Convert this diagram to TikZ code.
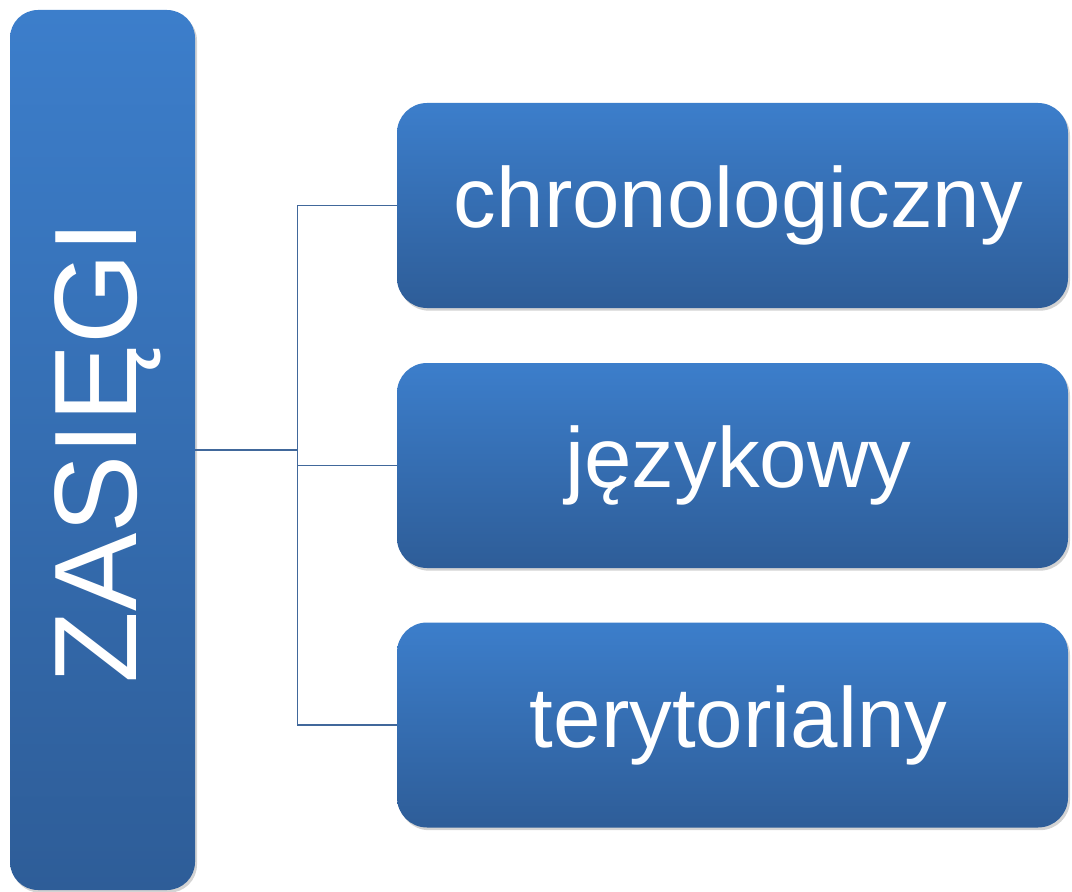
\documentclass[tikz,border=0pt]{standalone}
\usepackage{fontspec}
\setmainfont{Liberation Sans}
\usepackage{xcolor}
\usetikzlibrary{shadows}
\definecolor{boxtop}{HTML}{3C7ECB}
\definecolor{boxbot}{HTML}{2E5D98}
\definecolor{linkblue}{HTML}{41689B}
\tikzset{ZBox/.style={shape=rectangle,inner sep=0pt,top color=boxtop,bottom color=boxbot,
  text=white,drop shadow={opacity=.35,shadow xshift=1.5pt,shadow yshift=-2pt}}}
\tikzset{RBox/.style={ZBox,minimum width=503.25pt,minimum height=153.75pt,rounded corners=22.5pt,
  font=\fontsize{64}{70}\selectfont,execute at begin node=\hspace*{9pt}}}

\begin{document}
\begin{tikzpicture}[x=0.75pt,y=-0.75pt]
	\useasboundingbox (0,0) rectangle (1072,892);
	\node[ZBox,minimum width=138.75pt,minimum height=660pt,rounded corners=21pt] (Z) at (102.5,450) {};
	\node[text=white,rotate=90,font=\fontsize{88}{96}\selectfont] (Zt) at (108,452) {ZASIĘGI};
	\node[RBox] (C) at (732.5,205.5) {chronologiczny};
	\node[RBox] (J) at (732.5,465.5) {językowy};
	\node[RBox] (T) at (732.5,725) {terytorialny};
	%
	\draw[linkblue,line width=1.1pt] (Z.east) -- ++(102,0) coordinate (hub);
	\path[draw=linkblue,line width=1.1pt]
	(hub) |- (C.west)
	(hub) |- (J.west)
	(hub) |- (T.west);
\end{tikzpicture}
\end{document}
